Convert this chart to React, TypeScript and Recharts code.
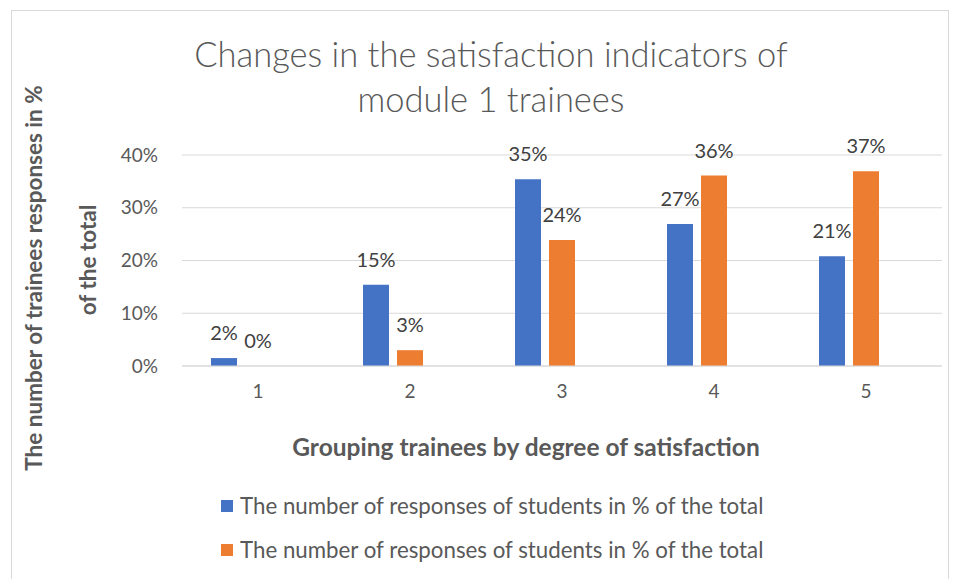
import { BarChart, Bar, XAxis, YAxis, CartesianGrid, LabelList } from 'recharts';

// satisfaction groups 1..5
const categories = ['1', '2', '3', '4', '5'];
const firstSurvey = [1.5, 15.4, 35.4, 26.9, 20.8];
const secondSurvey = [0, 3.0, 23.9, 36.1, 36.9];
// the source chart has an empty third series that still takes a slot in each group
const emptySeries: (number | null)[] = [null, null, null, null, null];
const yTicks = [0, 10, 20, 30, 40];
const seriesNames = [
  'The number of responses of students in % of the total',
  'The number of responses of students in % of the total',
];
const titleLines = ['Changes in the satisfaction indicators of', 'module 1 trainees'];
const yTitleLines = ['The number of trainees responses in %', 'of the total'];
const xTitle = 'Grouping trainees by degree of satisfaction';

const colors = ['#4472C4', '#ED7D31'];
const font = 'Lato, "Open Sans", sans-serif';
const BAR_GAP = 8;

const data = categories.map((c, i) => ({
  name: c,
  a: firstSurvey[i],
  b: secondSurvey[i],
  c: emptySeries[i],
}));

const pct = (v: any) => `${Math.round(Number(v))}%`;

const labelText = (cx: number, top: number, v: number, key?: string) => (
  <text key={key} x={cx} y={top - 18} textAnchor="middle" fill="#404040" fontSize={20} fontFamily={font}>
    {pct(v)}
  </text>
);

const TopLabel = (props: any) => {
  const { x, y, width, value } = props;
  if (value == null) return null;
  return labelText(Number(x) + Number(width) / 2, Number(y), value);
};

// recharts skips zero-height bars, so the blue bar's label also places
// the orange "0%" in the neighbouring slot at the baseline
const FirstLabel = (props: any) => {
  const { x, y, width, height, value, index } = props;
  if (value == null) return null;
  const w = Number(width);
  const base = Number(y) + Number(height);
  return (
    <g>
      {labelText(Number(x) + w / 2, Number(y), value, 'a')}
      {secondSurvey[index] === 0 && labelText(Number(x) + w + BAR_GAP + w / 2, base, 0, 'b')}
    </g>
  );
};

export default function App() {
  return (
    <div style={{ position: 'absolute', left: 0, top: 0, width: 958, height: 579, background: '#fff', overflow: 'hidden', fontFamily: font }}>
      <div style={{ position: 'absolute', left: 11, top: 10, width: 936, height: 600, border: '1px solid #d9d9d9' }} />

      {titleLines.map((t, i) => (
        <div
          key={i}
          style={{
            position: 'absolute', left: 0, width: 982, top: 33 + i * 45, textAlign: 'center',
            fontSize: 34.5, fontWeight: 300, color: '#595959', lineHeight: '42px', whiteSpace: 'nowrap',
          }}
        >
          {t}
        </div>
      ))}

      {yTitleLines.map((t, i) => (
        <div
          key={i}
          style={{
            position: 'absolute', left: i === 0 ? 34 : 88, top: i === 0 ? 278 : 260, width: 500,
            transform: 'translate(-50%, -50%) rotate(-90deg)', textAlign: 'center',
            fontSize: 22.5, fontWeight: 700, color: '#595959', lineHeight: '28px', whiteSpace: 'nowrap',
          }}
        >
          {t}
        </div>
      ))}

      <div
        style={{
          position: 'absolute', left: 226, width: 600, top: 432, textAlign: 'center',
          fontSize: 24.5, fontWeight: 700, color: '#595959', lineHeight: '30px', whiteSpace: 'nowrap',
        }}
      >
        {xTitle}
      </div>

      {seriesNames.map((n, i) => (
        <div
          key={i}
          style={{
            position: 'absolute', left: 221, top: 492 + i * 44, display: 'flex', alignItems: 'center',
            fontSize: 22.3, color: '#595959', lineHeight: '28px', whiteSpace: 'nowrap',
          }}
        >
          <span style={{ display: 'inline-block', width: 12, height: 12, background: colors[i], marginRight: 7 }} />
          {n}
        </div>
      ))}

      <div style={{ position: 'absolute', left: 0, top: 0 }}>
        <BarChart
          width={958}
          height={579}
          data={data}
          margin={{ top: 155, right: 16, left: 122, bottom: 183 }}
          barSize={26}
          barGap={BAR_GAP}
          style={{ fontFamily: font }}
        >
          <CartesianGrid vertical={false} stroke="#d9d9d9" />
          <XAxis
            dataKey="name"
            height={30}
            axisLine={{ stroke: '#d9d9d9' }}
            tickLine={false}
            tickSize={0}
            tickMargin={19}
            tick={{ fill: '#595959', fontSize: 19 }}
          />
          <YAxis
            width={60}
            domain={[0, 40]}
            ticks={yTicks}
            tickFormatter={(v) => `${v}%`}
            axisLine={false}
            tickLine={false}
            tickSize={0}
            tickMargin={24}
            tick={{ fill: '#595959', fontSize: 19 }}
          />
          <Bar dataKey="a" fill={colors[0]} isAnimationActive={false}>
            <LabelList dataKey="a" content={FirstLabel} />
          </Bar>
          <Bar dataKey="b" fill={colors[1]} isAnimationActive={false}>
            <LabelList dataKey="b" content={TopLabel} />
          </Bar>
          <Bar dataKey="c" fill="#A5A5A5" isAnimationActive={false} legendType="none" />
        </BarChart>
      </div>
    </div>
  );
}
